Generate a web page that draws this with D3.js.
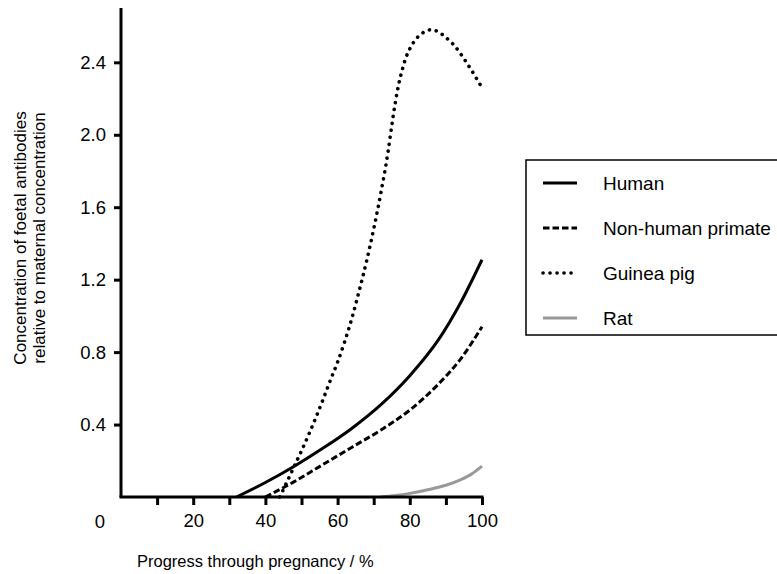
<!DOCTYPE html>
<html>
<head>
<meta charset="utf-8">
<script src="https://cdn.jsdelivr.net/npm/d3@7"></script>
<style>
  body { margin: 0; background: #fff; }
  text { font-family: "Liberation Sans", Arial, sans-serif; fill: #000; }
</style>
</head>
<body>
<div id="chart"></div>
<script>
var svgWidth = 777;
var svgHeight = 574;

// progress through pregnancy (%) and relative concentration
var humanX = [32, 40, 48, 56, 64, 72, 80, 88, 94, 100];
var humanY = [0, 0.08, 0.17, 0.27, 0.38, 0.51, 0.67, 0.87, 1.07, 1.31];

var primateX = [40, 48, 56, 64, 72, 80, 88, 94, 100];
var primateY = [0, 0.085, 0.18, 0.275, 0.37, 0.48, 0.625, 0.76, 0.94];

var guineaX = [44, 46, 48, 50, 52, 54, 56, 58, 60, 62, 64, 66, 68, 70, 72, 74, 75, 76, 77, 78, 79, 80, 82, 84, 86, 88, 90, 92, 96, 100];
var guineaY = [0, 0.085, 0.17, 0.255, 0.345, 0.44, 0.54, 0.645, 0.745, 0.86, 0.99, 1.14, 1.3, 1.48, 1.68, 1.91, 2.05, 2.18, 2.285, 2.365, 2.43, 2.475, 2.535, 2.568, 2.58, 2.567, 2.537, 2.5, 2.39, 2.26];

var ratX = [72, 76, 80, 85, 90, 94, 97, 100];
var ratY = [0, 0.008, 0.02, 0.04, 0.065, 0.095, 0.125, 0.17];

var seriesNames = ["Human", "Non-human primate", "Guinea pig", "Rat"];
var xTicks = [10, 20, 30, 40, 50, 60, 70, 80, 90, 100];
var xTickLabels = [20, 40, 60, 80, 100];
var yTicks = [0.4, 0.8, 1.2, 1.6, 2.0, 2.4];

var styles = [
  { color: "#000", dash: null, width: 3, cap: "butt" },
  { color: "#000", dash: "6.5 3", width: 3, cap: "butt" },
  { color: "#000", dash: "0.1 6.9", width: 3.6, cap: "round" },
  { color: "#999", dash: null, width: 3, cap: "butt" }
];

function zip(xs, ys) {
  return xs.map(function(x, i) { return { x: x, y: ys[i] }; });
}
var series = [zip(humanX, humanY), zip(primateX, primateY), zip(guineaX, guineaY), zip(ratX, ratY)];

var svg = d3.select("#chart")
  .append("svg")
  .attr("width", svgWidth)
  .attr("height", svgHeight);

var x = d3.scaleLinear().domain([0, 100]).range([121, 482]);
var y = d3.scaleLinear().domain([0, 2.7]).range([497, 8]);

var line = d3.line()
  .x(d => x(d.x))
  .y(d => y(d.y))
  .curve(d3.curveMonotoneX);

// curves
svg.selectAll("path.series")
  .data(series)
  .enter()
  .append("path")
  .attr("class", "series")
  .attr("d", line)
  .attr("fill", "none")
  .attr("stroke", (d, i) => styles[i].color)
  .attr("stroke-width", (d, i) => styles[i].width)
  .attr("stroke-linecap", (d, i) => styles[i].cap)
  .attr("stroke-dasharray", (d, i) => styles[i].dash);

// x axis
var xAxis = svg.append("g")
  .attr("transform", `translate(0, ${y(0)})`)
  .call(d3.axisBottom(x).tickValues(xTicks).tickSize(8).tickFormat(d => xTickLabels.indexOf(d) >= 0 ? d : ""));
xAxis.select(".domain").attr("stroke-width", 3).attr("d", `M${x(0) - 1.5},0H${x(100) + 1.5}`);
xAxis.selectAll(".tick line").attr("stroke-width", 3);
xAxis.selectAll(".tick text").attr("y", 17).style("font-size", "18.5px");

svg.append("text")
  .attr("x", 100)
  .attr("y", 528)
  .attr("text-anchor", "middle")
  .style("font-size", "18.5px")
  .text("0");

// y axis
var yAxis = svg.append("g")
  .attr("transform", `translate(${x(0)}, 0)`)
  .call(d3.axisLeft(y).tickValues(yTicks).tickSize(7).tickFormat(d3.format(".1f")));
yAxis.select(".domain").attr("stroke-width", 3).attr("d", `M0,${y(0)}V${y(2.7)}`);
yAxis.selectAll(".tick line").attr("stroke-width", 3);
yAxis.selectAll(".tick text").attr("x", -15).style("font-size", "18.5px");

// axis titles
svg.append("text")
  .attr("x", 137)
  .attr("y", 567)
  .style("font-size", "16.5px")
  .text("Progress through pregnancy / %");

var yTitle = svg.append("text")
  .attr("transform", "translate(26, 238) rotate(-90)")
  .attr("text-anchor", "middle")
  .style("font-size", "17px");
yTitle.append("tspan").attr("x", 0).attr("y", 0).text("Concentration of foetal antibodies");
yTitle.append("tspan").attr("x", 0).attr("y", 19).text("relative to maternal concentration");

// legend
var legend = svg.append("g");
legend.append("rect")
  .attr("x", 526)
  .attr("y", 160)
  .attr("width", 300)
  .attr("height", 175)
  .attr("fill", "#fff")
  .attr("stroke", "#000")
  .attr("stroke-width", 1.5);

var rows = legend.selectAll("g.row")
  .data(seriesNames)
  .enter()
  .append("g")
  .attr("class", "row")
  .attr("transform", (d, i) => `translate(0, ${183 + i * 45})`);

rows.append("line")
  .attr("x1", 543)
  .attr("x2", 577)
  .attr("stroke", (d, i) => styles[i].color)
  .attr("stroke-width", (d, i) => styles[i].width)
  .attr("stroke-linecap", (d, i) => styles[i].cap)
  .attr("stroke-dasharray", (d, i) => styles[i].dash);

rows.append("text")
  .attr("x", 603)
  .attr("y", 7)
  .style("font-size", "19px")
  .text(d => d);
</script>
</body>
</html>
